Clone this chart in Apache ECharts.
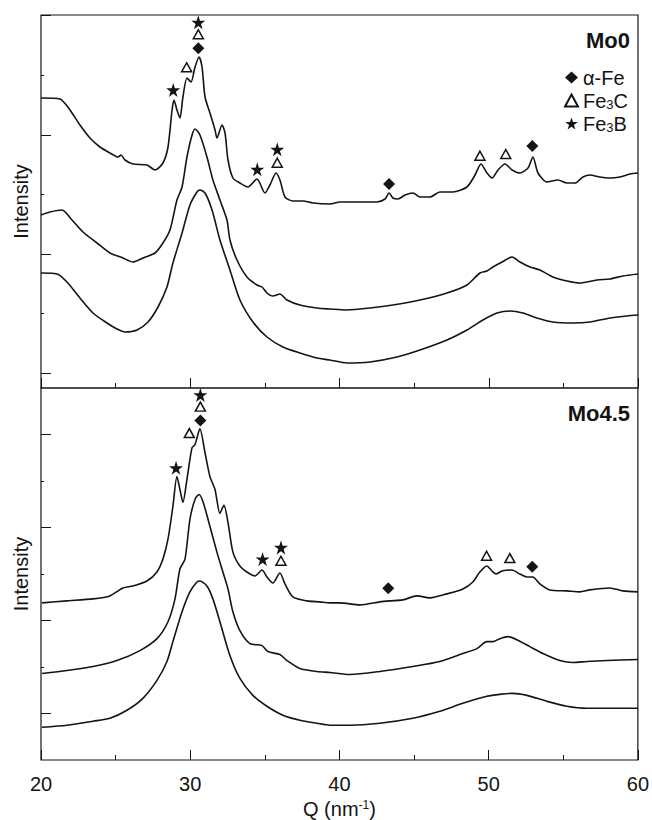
<!DOCTYPE html>
<html>
<head>
<meta charset="utf-8">
<title>Mo0 / Mo4.5 diffraction patterns</title>
<script src="https://cdn.jsdelivr.net/npm/echarts@6.0.0/dist/echarts.min.js"></script>
<style>
  html, body { margin: 0; padding: 0; background: #fff; }
  #chart { width: 652px; height: 820px; }
</style>
</head>
<body>
<div id="chart"></div>
<script>
// Q in nm^-1, intensity in arbitrary units

// ---- Mo0 panel, curves from top to bottom ----
const mo0Q1 = [20.00, 21.27, 21.94, 22.61, 23.28, 23.95, 24.62, 25.16, 25.36, 25.63, 26.16, 27.10, 27.64, 28.17, 28.51, 28.78, 28.91, 29.11, 29.31, 29.51, 29.78, 30.05, 30.32, 30.59, 30.79, 30.99, 31.32, 31.66, 31.79, 32.13, 32.33, 32.53, 32.86, 33.33, 33.87, 34.47, 35.01, 35.34, 35.75, 36.01, 36.35, 36.88, 37.55, 38.22, 39.36, 40.03, 41.37, 42.51, 43.05, 43.32, 43.58, 43.92, 44.39, 44.92, 45.39, 46.06, 46.73, 47.60, 48.54, 49.08, 49.48, 49.88, 50.22, 50.62, 51.09, 51.56, 52.09, 52.63, 52.96, 53.30, 53.90, 54.64, 55.24, 55.78, 56.31, 56.78, 57.45, 58.12, 58.79, 59.46, 60.00];
const mo0I1 = [290, 289, 278, 263, 250, 241, 235, 231, 233, 228, 224, 223, 218, 225, 241, 278, 288, 278, 270, 291, 310, 306, 321, 331, 321, 291, 275, 258, 250, 263, 255, 228, 210, 205, 201, 209, 195, 203, 215, 208, 191, 187, 187, 185, 184, 186, 186, 186, 189, 195, 190, 189, 193, 195, 191, 191, 196, 196, 201, 213, 224, 215, 210, 218, 224, 218, 215, 220, 231, 215, 206, 208, 205, 205, 211, 213, 211, 210, 211, 214, 215];

const mo0Q2 = [20.00, 20.60, 21.41, 22.08, 22.81, 23.75, 24.62, 25.49, 26.16, 26.83, 27.64, 28.17, 28.64, 29.11, 29.45, 29.78, 30.12, 30.32, 30.65, 31.12, 31.52, 31.99, 32.46, 32.66, 33.13, 33.80, 34.47, 34.81, 35.14, 35.54, 36.01, 36.48, 37.35, 38.49, 39.36, 40.50, 42.04, 43.58, 45.39, 47.20, 48.54, 49.41, 49.88, 50.28, 50.89, 51.56, 52.09, 52.76, 53.43, 54.30, 55.24, 56.11, 57.25, 58.12, 58.99, 60.00];
const mo0I2 = [173, 176, 178, 168, 156, 145, 135, 130, 126, 130, 135, 145, 158, 188, 201, 231, 253, 259, 253, 231, 208, 188, 168, 148, 128, 111, 103, 101, 95, 92, 94, 88, 83, 80, 79, 78, 80, 83, 88, 95, 103, 115, 117, 121, 126, 131, 126, 121, 118, 111, 107, 105, 108, 109, 112, 114];

const mo0Q3 = [20.00, 21.07, 21.74, 22.61, 23.48, 24.42, 25.09, 25.63, 26.43, 27.17, 27.84, 28.44, 28.84, 29.45, 29.98, 30.45, 30.65, 30.99, 31.46, 31.99, 32.66, 33.33, 34.20, 35.14, 36.21, 37.35, 38.49, 39.36, 40.50, 42.04, 43.85, 45.39, 47.20, 48.54, 49.61, 50.55, 51.42, 52.29, 53.23, 54.30, 55.64, 56.78, 58.12, 59.26, 60.00];
const mo0I3 = [115, 114, 106, 90, 75, 65, 59, 56, 58, 66, 81, 101, 125, 155, 183, 196, 198, 195, 178, 148, 118, 88, 66, 51, 41, 35, 30, 28, 25, 26, 31, 38, 48, 58, 68, 75, 77, 75, 70, 66, 65, 66, 70, 72, 73];

// ---- Mo4.5 panel, curves from top to bottom ----
const mo45Q1 = [20.07, 21.74, 23.48, 24.62, 25.49, 26.16, 27.10, 27.77, 28.17, 28.51, 28.84, 29.11, 29.31, 29.51, 29.78, 30.12, 30.32, 30.65, 30.99, 31.32, 31.66, 31.99, 32.26, 32.53, 32.86, 33.33, 33.80, 34.34, 34.81, 35.14, 35.54, 36.01, 36.35, 36.88, 37.82, 38.69, 39.36, 40.03, 41.37, 42.71, 43.38, 44.25, 45.19, 46.06, 47.20, 48.27, 48.94, 49.41, 49.88, 50.22, 50.49, 50.89, 51.56, 52.09, 52.56, 52.96, 53.43, 54.10, 55.24, 56.11, 56.78, 58.12, 58.99, 60.00];
const mo45I1 = [158, 160, 162, 165, 173, 175, 180, 189, 202, 222, 255, 285, 272, 259, 282, 314, 317, 333, 309, 285, 272, 248, 256, 239, 209, 195, 189, 185, 191, 184, 178, 188, 177, 164, 160, 159, 158, 158, 156, 159, 160, 161, 165, 163, 167, 172, 179, 189, 195, 190, 187, 190, 191, 187, 184, 184, 177, 171, 170, 169, 171, 173, 170, 169];

const mo45Q2 = [20.07, 21.74, 23.48, 25.09, 26.63, 27.77, 28.51, 28.98, 29.31, 29.65, 29.98, 30.32, 30.59, 30.85, 31.32, 31.79, 32.19, 32.53, 32.86, 33.33, 34.00, 34.81, 35.21, 36.01, 36.48, 37.35, 38.49, 39.36, 40.70, 42.71, 44.92, 46.73, 48.27, 49.21, 49.88, 50.28, 50.75, 51.29, 51.89, 52.76, 53.64, 54.77, 55.64, 56.58, 57.92, 60.00];
const mo45I2 = [87, 90, 94, 100, 110, 122, 139, 162, 192, 202, 242, 262, 267, 260, 235, 209, 189, 172, 149, 130, 117, 115, 109, 106, 100, 92, 89, 88, 86, 89, 94, 99, 107, 112, 119, 119, 122, 124, 121, 114, 107, 100, 98, 99, 100, 101];

const mo45Q3 = [20.07, 21.74, 23.48, 24.62, 25.76, 26.83, 27.77, 28.44, 28.84, 29.45, 29.98, 30.45, 30.65, 31.12, 31.52, 31.99, 32.66, 33.33, 34.20, 35.14, 36.21, 37.35, 38.49, 39.36, 40.70, 42.71, 44.92, 46.73, 48.27, 49.88, 50.75, 51.62, 52.56, 53.90, 55.24, 56.58, 58.33, 60.00];
const mo45I3 = [33, 35, 39, 42, 50, 62, 80, 99, 119, 149, 169, 179, 180, 175, 162, 139, 105, 82, 65, 54, 45, 40, 37, 35, 35, 37, 42, 49, 57, 64, 66, 67, 65, 59, 54, 52, 52, 52];

// ---- phase markers [Q, intensity] ----
const mo0AlphaFe = [[30.54, 339.7], [43.32, 204], [52.92, 242]];
const mo0Fe3C = [[30.54, 353.7], [29.76, 320.7], [35.83, 225.3], [49.41, 232.3], [51.14, 234]];
const mo0Fe3B = [[30.54, 365.7], [28.86, 298], [34.49, 218.7], [35.83, 238.7]];

const mo45AlphaFe = [[30.68, 341.3], [43.27, 172.7], [52.92, 194.3]];
const mo45Fe3C = [[30.68, 355.3], [29.94, 328.7], [36.08, 200.3], [49.86, 205.3], [51.42, 203]];
const mo45Fe3B = [[30.68, 367], [29.05, 293.7], [34.85, 202], [36.08, 213.7]];

// ---- axes ----
const qMin = 20;
const qMax = 60;
const mo0Max = 373;
const mo45Max = 374;
const mo0LongTicks = [15, 134, 253, 373];
const mo0ShortTicks = [75, 194, 313];
const mo45LongTicks = [46.75, 140.25, 233.75, 327.25];
const mo45ShortTicks = [93.5, 187, 280.5];

const phaseNames = ['α-Fe', 'Fe3C', 'Fe3B'];

const FONT = '"Liberation Sans", Arial, Helvetica, sans-serif';
const INK = '#141414';
const STAR = 'path://M50,2 L61.23,36.55 L97.55,36.55 L68.17,57.9 L79.39,92.45 L50,71.1 L20.61,92.45 L31.83,57.9 L2.45,36.55 L38.77,36.55 Z';

const pairs = (q, v) => q.map((x, k) => [x, v[k]]);

const xAxisBase = (gridIndex, withLabels) => ({
  type: 'value',
  gridIndex,
  min: qMin,
  max: qMax,
  interval: 10,
  axisLine: { show: false },
  axisTick: { show: true, inside: true, length: 10, lineStyle: { color: INK, width: 1 } },
  minorTick: { show: true, splitNumber: 2, length: 5, lineStyle: { color: INK, width: 1 } },
  splitLine: { show: false },
  axisLabel: { show: withLabels, color: INK, fontSize: 20, fontFamily: FONT, margin: 14 },
  name: withLabels ? 'Q (nm{sup|-1})' : '',
  nameLocation: 'middle',
  nameGap: 39,
  nameTextStyle: {
    color: INK, fontSize: 20, fontFamily: FONT, lineHeight: 20,
    rich: { sup: { fontSize: 12, fontFamily: FONT, color: INK, lineHeight: 8, verticalAlign: 'top' } },
  },
});

const yAxisBase = (gridIndex, max, ticks, len, withName) => ({
  type: 'value',
  gridIndex,
  position: 'left',
  min: 0,
  max,
  axisLine: { show: false },
  axisTick: { show: true, inside: true, length: len, customValues: ticks, lineStyle: { color: INK, width: 1 } },
  axisLabel: { show: false },
  splitLine: { show: false },
  name: withName ? 'Intensity' : '',
  nameLocation: 'middle',
  nameGap: 10,
  nameTextStyle: { color: INK, fontSize: 20, fontFamily: FONT },
});

const curve = (q, v, xi, yi) => ({
  type: 'line',
  xAxisIndex: xi,
  yAxisIndex: yi,
  data: pairs(q, v),
  showSymbol: false,
  smooth: 0.25,
  lineStyle: { color: INK, width: 1.6 },
  silent: true,
  z: 2,
});

const markerStyle = {
  'α-Fe': { symbol: 'diamond', symbolSize: 12, itemStyle: { color: INK, opacity: 1 } },
  'Fe3C': { symbol: 'triangle', symbolSize: [10, 9], itemStyle: { color: '#fff', borderColor: INK, borderWidth: 1.5, opacity: 1 } },
  'Fe3B': { symbol: STAR, symbolSize: 14, itemStyle: { color: INK, opacity: 1 } },
};

const markers = (name, data, xi, yi) => Object.assign({
  type: 'scatter',
  name,
  xAxisIndex: xi,
  yAxisIndex: yi,
  data,
  clip: false,
  silent: true,
  z: 5,
}, markerStyle[name]);

const chart = echarts.init(document.getElementById('chart'), null, { renderer: 'svg' });

const option = {
  animation: false,
  backgroundColor: '#fff',
  textStyle: { fontFamily: FONT },
  title: [
    { text: 'Mo0', right: 22, top: 29, padding: 0, textStyle: { fontSize: 22, fontWeight: 'bold', color: INK, fontFamily: FONT } },
    { text: 'Mo4.5', right: 22, top: 402, padding: 0, textStyle: { fontSize: 22, fontWeight: 'bold', color: INK, fontFamily: FONT } },
  ],
  legend: {
    data: phaseNames,
    orient: 'vertical',
    left: 564,
    top: 67,
    padding: 0,
    itemWidth: 13,
    itemHeight: 12,
    itemGap: 2,
    selectedMode: false,
    formatter: (name) => name.replace('3', '{sub|3}'),
    textStyle: {
      color: INK, fontSize: 20, fontFamily: FONT, lineHeight: 21,
      rich: { sub: { fontSize: 13, fontFamily: FONT, color: INK, lineHeight: 8, verticalAlign: 'bottom' } },
    },
  },
  grid: [
    { left: 41, right: 14, top: 15, height: 373, show: true, borderColor: INK, borderWidth: 1.2, backgroundColor: 'transparent' },
    { left: 41, right: 14, top: 388, height: 374, show: true, borderColor: INK, borderWidth: 1.2, backgroundColor: 'transparent' },
  ],
  xAxis: [xAxisBase(0, false), xAxisBase(1, true)],
  yAxis: [
    yAxisBase(0, mo0Max, mo0LongTicks, 10, true),
    yAxisBase(0, mo0Max, mo0ShortTicks, 3, false),
    yAxisBase(1, mo45Max, mo45LongTicks, 10, true),
    yAxisBase(1, mo45Max, mo45ShortTicks, 3, false),
  ],
  series: [
    curve(mo0Q1, mo0I1, 0, 0),
    curve(mo0Q2, mo0I2, 0, 0),
    curve(mo0Q3, mo0I3, 0, 0),
    curve(mo45Q1, mo45I1, 1, 2),
    curve(mo45Q2, mo45I2, 1, 2),
    curve(mo45Q3, mo45I3, 1, 2),
    markers('α-Fe', mo0AlphaFe, 0, 0),
    markers('Fe3C', mo0Fe3C, 0, 0),
    markers('Fe3B', mo0Fe3B, 0, 0),
    markers('α-Fe', mo45AlphaFe, 1, 2),
    markers('Fe3C', mo45Fe3C, 1, 2),
    markers('Fe3B', mo45Fe3B, 1, 2),
  ],
};

chart.setOption(option);
window.addEventListener('resize', () => chart.resize());
</script>
</body>
</html>
